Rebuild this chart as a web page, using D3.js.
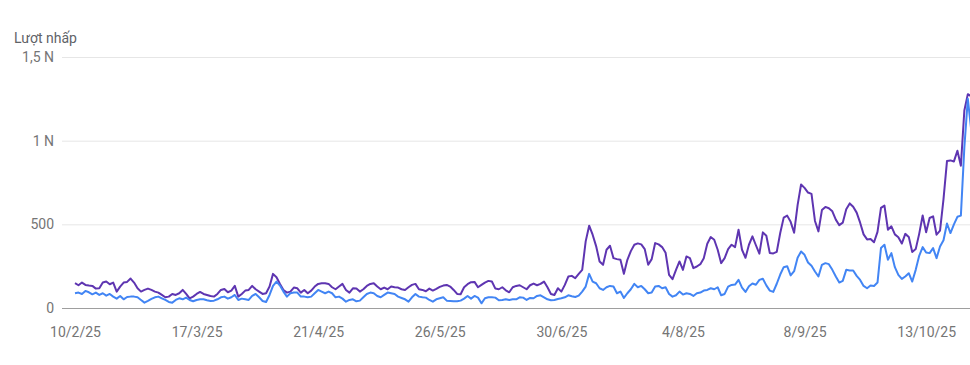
<!DOCTYPE html>
<html>
<head>
<meta charset="utf-8">
<script src="https://cdn.jsdelivr.net/npm/d3@7"></script>
<style>
  body { margin: 0; background: #fff; }
  svg { display: block; font-family: Roboto, "Noto Sans", sans-serif; }
</style>
</head>
<body>
<script>
const width = 970;
const height = 365;
const plotLeft = 62;
const plotRight = 970;
const plotTop = 57;
const plotBottom = 308;

// daily values, first day is 10/2/25
const startDate = "2025-02-10";

const purpleValues = [
  148,136,152,138,134,132,116,118,152,158, 142,152,98,128,152,156,176,152,118,98,
  108,116,108,98,92,78,64,68,84,78, 88,108,84,58,68,84,96,84,78,72,
  68,84,108,114,94,104,132,68,84,104,
  108,132,112,98,84,88,128,204,184,144, 108,92,98,122,118,92,108,88,104,128,
  144,148,148,144,124,112,128,144,108,92, 118,116,98,112,132,144,148,128,112,122,
  112,128,124,122,112,108,124,138,144,112,
  108,100,116,104,114,126,134,138,128,108, 84,82,124,142,154,156,124,138,152,162,
  158,116,112,124,106,94,124,132,136,124, 112,136,146,136,144,158,124,84,78,118,
  98,138,188,192,178,204,228,398,492,
  438,370,278,258,348,372,298,292,288,204, 288,340,378,386,380,352,258,292,388,380,
  364,330,198,172,228,278,228,308,298,238, 248,262,298,384,424,408,348,268,298,352,
  378,364,468,
  348,300,378,428,375,325,452,432,328,326,335,448,
  540,552,515,450,615,738,718,690,682,520, 458,585,604,596,578,528,495,510,590,625,
  605,570,510,440,410,412,393,455,598,612, 468,488,440,423,385,443,425,335,352,443,
  553,453,538,548,438,462,650,878,882,876, 940,850,1180,1278,1265
];

const blueValues = [
  88,92,84,102,94,82,92,78,88,74, 84,68,56,72,52,66,68,68,64,48,
  32,42,54,64,68,58,48,36,32,48, 58,52,62,48,40,48,52,52,46,42,
  44,52,64,68,56,64,78,48,56,52,
  48,72,84,64,42,36,78,132,158,134, 98,68,88,92,92,68,68,64,68,88,
  108,98,88,98,88,64,68,56,38,48, 52,40,44,64,84,92,88,72,64,78,
  92,88,84,68,60,52,38,64,84,68,
  64,62,48,38,52,58,64,44,42,40, 40,44,56,72,56,72,62,28,58,64,
  64,62,46,48,52,48,52,52,64,62, 48,60,58,72,76,64,52,46,48,54,
  58,64,76,70,66,74,98,128,204,
  158,148,118,108,124,132,128,88,98,60, 88,112,144,124,132,112,88,92,128,132,
  118,124,84,68,76,98,80,88,84,72, 88,92,104,108,118,112,124,76,84,128,
  138,140,168,
  122,96,130,146,139,168,175,135,104,96,145,200,
  244,250,195,220,300,338,318,272,252,218, 188,258,268,262,228,188,152,162,228,224,
  224,192,168,132,118,134,132,152,358,378, 288,328,244,198,174,188,208,158,228,312,
  364,332,328,358,298,368,405,505,448,500, 545,552,960,1250,1060
];

const tickDates = ["2025-02-10","2025-03-17","2025-04-21","2025-05-26","2025-06-30","2025-08-04","2025-09-08","2025-10-13"];
const yTicks = [0, 500, 1000, 1500];
const yTickLabels = ["0", "500", "1 N", "1,5 N"];

const parse = d3.utcParse("%Y-%m-%d");
const day0 = parse(startDate);
const dates = purpleValues.map((v, i) => d3.utcDay.offset(day0, i));

const xScale = d3.scaleUtc()
  .domain([dates[0], dates[dates.length - 1]])
  .range([75, 971.3]);

const yScale = d3.scaleLinear()
  .domain([0, 1500])
  .range([plotBottom, plotTop]);

const svg = d3.select("body").append("svg")
  .attr("width", width).attr("height", height);

svg.append("text")
  .attr("x", 14).attr("y", 43)
  .style("font-size", "14px").style("fill", "#5f6368")
  .text("Lượt nhấp");

// y axis with grid lines
const yAxis = d3.axisLeft(yScale)
  .tickValues(yTicks)
  .tickFormat((d, i) => yTickLabels[i])
  .tickSize(-(plotRight - plotLeft))
  .tickPadding(8);

const gy = svg.append("g")
  .attr("transform", "translate(" + plotLeft + ",0)")
  .call(yAxis);
gy.select(".domain").remove();
gy.selectAll(".tick line")
  .attr("stroke", d => d === 0 ? "#9e9e9e" : "#e6e6e6");
gy.selectAll(".tick text")
  .style("font-size", "14px").style("fill", "#757575")
  .style("font-family", "Roboto, sans-serif");

// x axis
const fmt = d3.utcFormat("%-d/%-m/%y");
const xAxis = d3.axisBottom(xScale)
  .tickValues(tickDates.map(parse))
  .tickFormat(fmt)
  .tickSize(0)
  .tickPadding(19);

const gx = svg.append("g")
  .attr("transform", "translate(0," + plotBottom + ")")
  .call(xAxis);
gx.select(".domain").remove();
gx.selectAll(".tick text")
  .style("font-size", "14px").style("fill", "#757575")
  .style("font-family", "Roboto, sans-serif");

const line = values => d3.line()
  .x((d, i) => xScale(dates[i]))
  .y(d => yScale(d))(values);

svg.append("path")
  .attr("d", line(purpleValues))
  .attr("fill", "none").attr("stroke", "#5e35b1")
  .attr("stroke-width", 2).attr("stroke-linejoin", "round");

svg.append("path")
  .attr("d", line(blueValues))
  .attr("fill", "none").attr("stroke", "#4285f4")
  .attr("stroke-width", 2).attr("stroke-linejoin", "round");
</script>
</body>
</html>
